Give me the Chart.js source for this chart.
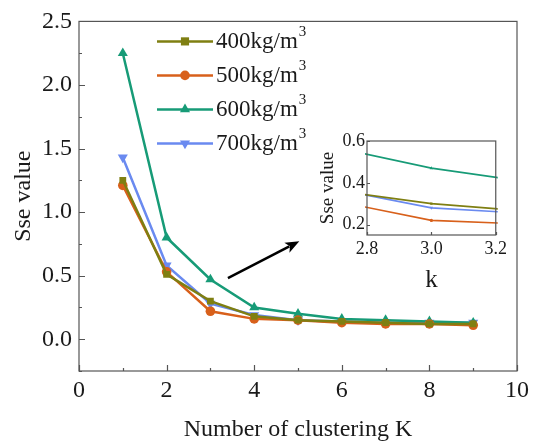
<!DOCTYPE html>
<html><head><meta charset="utf-8">
<script src="https://cdn.jsdelivr.net/npm/chart.js@4.4.1/dist/chart.umd.min.js"></script>
<style>
html,body{margin:0;padding:0;background:#fff;}
#wrap{position:relative;width:536px;height:441px;overflow:hidden;}
#main{position:absolute;left:0;top:0;}
#inset{position:absolute;left:315px;top:125px;}
</style></head><body>
<div id="wrap"><canvas id="main" width="536" height="441"></canvas><canvas id="inset" width="195" height="175"></canvas></div>
<script>
// ---- data ----
const kValues = [1, 2, 3, 4, 5, 6, 7, 8, 9];
const seriesLabels = ['400kg/m³', '500kg/m³', '600kg/m³', '700kg/m³'];
const sse400 = [1.25, 0.51, 0.30, 0.18, 0.15, 0.14, 0.13, 0.12, 0.12];
const sse500 = [1.21, 0.53, 0.22, 0.16, 0.15, 0.13, 0.12, 0.12, 0.11];
const sse600 = [2.25, 0.80, 0.47, 0.25, 0.20, 0.16, 0.15, 0.14, 0.13];
const sse700 = [1.43, 0.58, 0.28, 0.19, 0.15, 0.14, 0.13, 0.13, 0.13];
const xTicks = [0, 2, 4, 6, 8, 10];
const xMinorTicks = [1, 3, 5, 7, 9];
const yTicks = [0, 0.5, 1.0, 1.5, 2.0, 2.5];
const yMinorTicks = [-0.25, 0.25, 0.75, 1.25, 1.75, 2.25];
const insetXTicks = [2.8, 3.0, 3.2];
const insetYTicks = [0.2, 0.4, 0.6];
const arrowFrom = {x: 3.4, y: 0.48};
const arrowTo = {x: 5.03, y: 0.77};

// ---- styles ----
const colors = ['#7f7f12', '#d8601b', '#179b77', '#6a8af0'];
const styles = ['rect', 'circle', 'triangle', 'triangle'];
const rotations = [0, 0, 0, 180];
const radii = [4.8, 4.8, 5.8, 5.8];
const seriesData = [sse400, sse500, sse600, sse700];
const FONT = '"Liberation Serif", "Times New Roman", serif';
const FRAME = '#555';
const TEXT = '#1a1a1a';

function makeDatasets(lw, rScale) {
  return seriesData.map((arr, i) => ({
    label: seriesLabels[i],
    data: kValues.map((k, j) => ({x: k, y: arr[j]})),
    borderColor: colors[i],
    backgroundColor: colors[i],
    borderWidth: lw,
    pointStyle: styles[i],
    rotation: rotations[i],
    pointRadius: radii[i] * rScale,
    pointBorderWidth: 0,
    pointBackgroundColor: colors[i],
    tension: 0,
    clip: 2
  }));
}

function drawMarker(ctx, style, rot, r, x, y, color) {
  ctx.save();
  ctx.fillStyle = color;
  ctx.translate(x, y);
  ctx.rotate(rot * Math.PI / 180);
  ctx.beginPath();
  if (style === 'rect') {
    const s = r * 0.85;
    ctx.rect(-s, -s, 2 * s, 2 * s);
  } else if (style === 'circle') {
    ctx.arc(0, 0, r, 0, Math.PI * 2);
  } else {
    ctx.moveTo(0, -r);
    ctx.lineTo(r * 0.866, r * 0.5);
    ctx.lineTo(-r * 0.866, r * 0.5);
    ctx.closePath();
  }
  ctx.fill();
  ctx.restore();
}

function setTicks(values) {
  return function (scale) { scale.ticks = values.map(v => ({value: v})); };
}

const framePlugin = {
  id: 'frame',
  afterDraw(chart, args, opts) {
    const {ctx, chartArea: a, scales: {x, y}} = chart;
    ctx.save();
    ctx.strokeStyle = FRAME;
    ctx.lineWidth = opts.lw;
    ctx.strokeRect(a.left, a.top, a.right - a.left, a.bottom - a.top);
    ctx.beginPath();
    opts.xMajor.forEach(v => { const p = Math.round(x.getPixelForValue(v)) + 0.5; ctx.moveTo(p, a.bottom); ctx.lineTo(p, a.bottom - opts.major); });
    opts.xMinor.forEach(v => { const p = Math.round(x.getPixelForValue(v)) + 0.5; ctx.moveTo(p, a.bottom); ctx.lineTo(p, a.bottom - opts.minor); });
    opts.yMajor.forEach(v => { const p = Math.round(y.getPixelForValue(v)) + 0.5; ctx.moveTo(a.left, p); ctx.lineTo(a.left + opts.major, p); });
    opts.yMinor.forEach(v => { const p = Math.round(y.getPixelForValue(v)) + 0.5; ctx.moveTo(a.left, p); ctx.lineTo(a.left + opts.minor, p); });
    ctx.stroke();
    ctx.restore();
  }
};

const legendPlugin = {
  id: 'boxLegend',
  afterDatasetsDraw(chart, args, opts) {
    if (!opts.show) return;
    const {ctx, chartArea: a} = chart;
    ctx.save();
    chart.data.datasets.forEach((ds, i) => {
      const yy = a.top + opts.top + i * opts.spacing;
      const x0 = a.left + opts.left, x1 = x0 + opts.lineLen;
      ctx.strokeStyle = colors[i];
      ctx.lineWidth = 2.5;
      ctx.beginPath(); ctx.moveTo(x0, yy); ctx.lineTo(x1, yy); ctx.stroke();
      drawMarker(ctx, styles[i], rotations[i], radii[i], (x0 + x1) / 2, yy, colors[i]);
      ctx.fillStyle = TEXT;
      ctx.font = '23px ' + FONT;
      ctx.textBaseline = 'middle';
      ctx.textAlign = 'left';
      const label = ds.label;
      const base = label.replace('³', '');
      ctx.fillText(base, x1 + 3, yy + 1);
      const w = ctx.measureText(base).width;
      ctx.font = '15px ' + FONT;
      ctx.fillText('3', x1 + 3 + w + 1, yy - 9);
    });
    ctx.restore();
  }
};

const arrowPlugin = {
  id: 'arrow',
  afterDatasetsDraw(chart, args, opts) {
    if (!opts.show) return;
    const {ctx, scales: {x, y}} = chart;
    const x0 = x.getPixelForValue(arrowFrom.x), y0 = y.getPixelForValue(arrowFrom.y);
    const x1 = x.getPixelForValue(arrowTo.x), y1 = y.getPixelForValue(arrowTo.y);
    const ang = Math.atan2(y1 - y0, x1 - x0);
    const hl = 14, hw = 5.5;
    ctx.save();
    ctx.strokeStyle = '#000'; ctx.fillStyle = '#000'; ctx.lineWidth = 2.5;
    ctx.beginPath();
    ctx.moveTo(x0, y0);
    ctx.lineTo(x1 - Math.cos(ang) * hl * 0.8, y1 - Math.sin(ang) * hl * 0.8);
    ctx.stroke();
    ctx.beginPath();
    ctx.moveTo(x1, y1);
    ctx.lineTo(x1 - Math.cos(ang) * hl - Math.sin(ang) * hw, y1 - Math.sin(ang) * hl + Math.cos(ang) * hw);
    ctx.lineTo(x1 - Math.cos(ang) * hl * 0.75, y1 - Math.sin(ang) * hl * 0.75);
    ctx.lineTo(x1 - Math.cos(ang) * hl + Math.sin(ang) * hw, y1 - Math.sin(ang) * hl - Math.cos(ang) * hw);
    ctx.closePath();
    ctx.fill();
    ctx.restore();
  }
};

Chart.register(framePlugin, legendPlugin, arrowPlugin);

// ---- main chart ----
new Chart(document.getElementById('main'), {
  type: 'line',
  data: {datasets: makeDatasets(2.5, 1)},
  options: {
    responsive: false,
    animation: false,
    devicePixelRatio: 1,
    layout: {padding: {left: 0, top: 19, right: 19, bottom: 0}},
    plugins: {
      legend: {display: false},
      tooltip: {enabled: false},
      frame: {lw: 1.2, major: 6, minor: 3, xMajor: xTicks, xMinor: xMinorTicks, yMajor: yTicks, yMinor: yMinorTicks},
      boxLegend: {show: true, left: 78, top: 20, spacing: 34, lineLen: 56},
      arrow: {show: true}
    },
    scales: {
      x: {
        type: 'linear', min: 0, max: 10,
        afterBuildTicks: setTicks(xTicks),
        afterFit(s) { s.height = 70; },
        grid: {display: false, drawTicks: false},
        border: {display: false},
        ticks: {font: {family: FONT, size: 24}, color: TEXT, padding: 5, maxRotation: 0,
          callback: v => String(v)},
        title: {display: true, text: 'Number of clustering K', font: {family: FONT, size: 24}, color: TEXT, padding: {top: 0, bottom: -3}}
      },
      y: {
        type: 'linear', min: -0.25, max: 2.5,
        afterBuildTicks: setTicks(yTicks),
        afterFit(s) { s.width = 79; },
        grid: {display: false, drawTicks: false},
        border: {display: false},
        ticks: {font: {family: FONT, size: 24}, color: TEXT, padding: 7,
          callback: v => Number(v).toFixed(1)},
        title: {display: true, text: 'Sse value', font: {family: FONT, size: 24}, color: TEXT, padding: {top: 9, bottom: 0}}
      }
    }
  }
});

// ---- inset chart ----
new Chart(document.getElementById('inset'), {
  type: 'line',
  data: {datasets: makeDatasets(1.6, 0.35)},
  options: {
    responsive: false,
    animation: false,
    devicePixelRatio: 1,
    layout: {padding: {left: 0, top: 16, right: 10, bottom: 0}},
    plugins: {
      legend: {display: false},
      tooltip: {enabled: false},
      frame: {lw: 1.2, major: 3, minor: 0, xMajor: insetXTicks, xMinor: [], yMajor: insetYTicks, yMinor: []},
      boxLegend: {show: false},
      arrow: {show: false}
    },
    scales: {
      x: {
        type: 'linear', min: 2.8, max: 3.2,
        afterBuildTicks: setTicks(insetXTicks),
        afterFit(s) { s.height = 65; },
        grid: {display: false, drawTicks: false},
        border: {display: false},
        ticks: {font: {family: FONT, size: 18}, color: TEXT, padding: 3, maxRotation: 0,
          callback: v => Number(v).toFixed(1)},
        title: {display: true, text: 'k', font: {family: FONT, size: 25}, color: TEXT, padding: {top: 0, bottom: 5}}
      },
      y: {
        type: 'linear', min: 0.15, max: 0.6,
        afterBuildTicks: setTicks(insetYTicks),
        afterFit(s) { s.width = 52; },
        grid: {display: false, drawTicks: false},
        border: {display: false},
        ticks: {font: {family: FONT, size: 18}, color: TEXT, padding: 2,
          callback: v => Number(v).toFixed(1)},
        title: {display: true, text: 'Sse value', font: {family: FONT, size: 19}, color: TEXT, padding: {top: 2, bottom: 0}}
      }
    }
  }
});
</script>
</body></html>
